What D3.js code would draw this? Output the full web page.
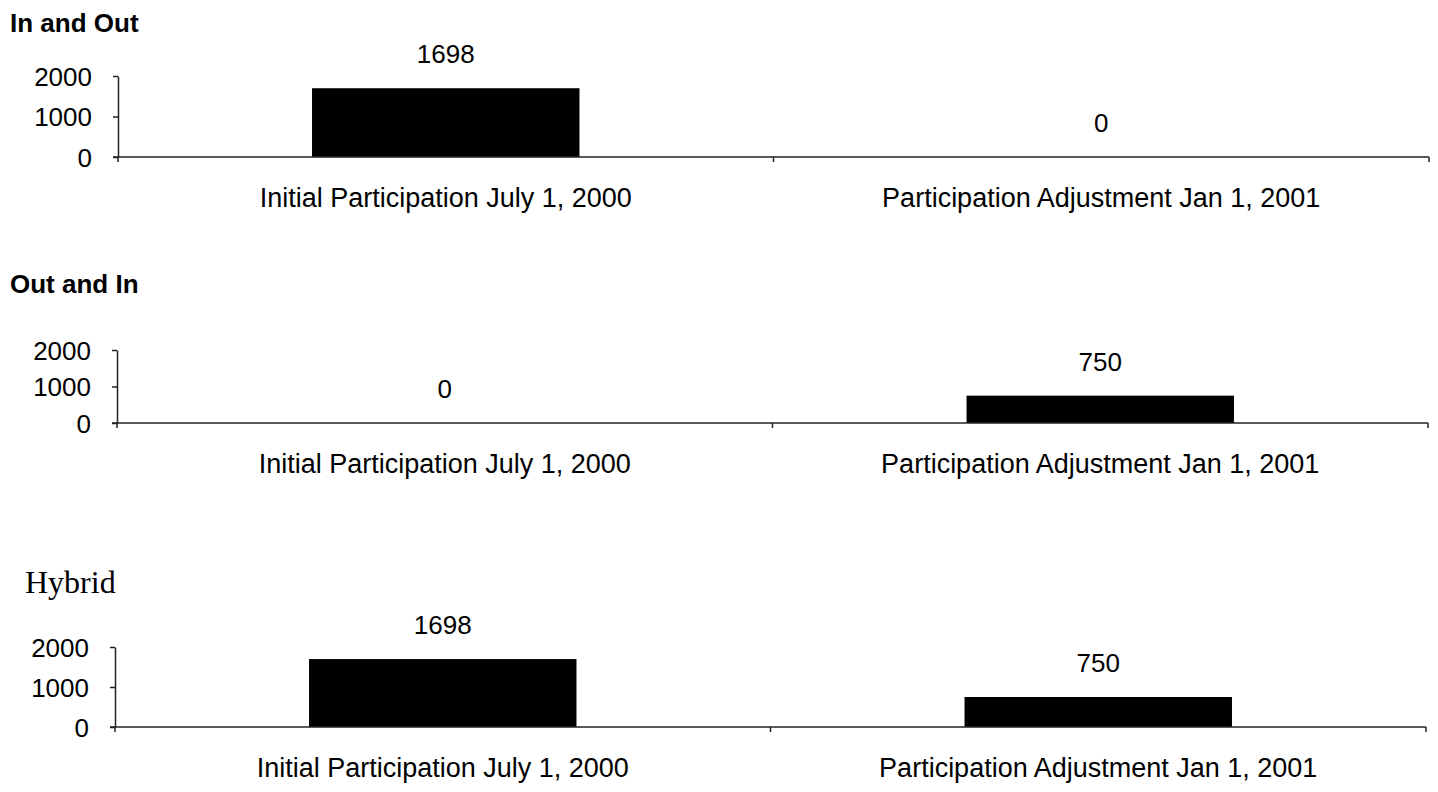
<!DOCTYPE html>
<html>
<head>
<meta charset="utf-8">
<script src="https://cdn.jsdelivr.net/npm/d3@7"></script>
<style>
  body { margin: 0; background: #fff; }
  svg text { fill: #000; }
</style>
</head>
<body>
<svg id="chart" width="1438" height="792"></svg>
<script>
// data
var categories = ["Initial Participation July 1, 2000", "Participation Adjustment Jan 1, 2001"];
var inAndOut = [1698, 0];
var outAndIn = [0, 750];
var hybrid = [1698, 750];
var yTicks = [0, 1000, 2000];
var titles = ["In and Out", "Out and In", "Hybrid"];

// layout of the three stacked panels
var panels = [
  { values: inAndOut, title: titles[0], titleY: 32,  serif: false, left: 118, right: 1429, zero: 157, top: 76 },
  { values: outAndIn, title: titles[1], titleY: 293, serif: false, left: 117, right: 1428, zero: 423, top: 350 },
  { values: hybrid,   title: titles[2], titleY: 593, serif: true,  left: 115, right: 1426, zero: 727, top: 647 }
];

var svg = d3.select("#chart");
var sans = "'Liberation Sans', Arial, sans-serif";

panels.forEach(function (p) {
  var g = svg.append("g");

  var x = d3.scaleBand()
      .domain(categories)
      .range([p.left, p.right])
      .paddingInner(0.592)
      .paddingOuter(0.296);

  var y = d3.scaleLinear()
      .domain([0, 2000])
      .range([p.zero, p.top]);

  // title
  g.append("text")
    .attr("x", p.serif ? 25 : 10)
    .attr("y", p.titleY)
    .attr("font-family", p.serif ? "'Liberation Serif', 'Times New Roman', serif" : sans)
    .attr("font-weight", p.serif ? "normal" : "bold")
    .attr("font-size", p.serif ? "32px" : "26px")
    .text(p.title);

  // y axis
  var yAxis = g.append("g")
    .attr("transform", "translate(" + p.left + ",0)")
    .call(d3.axisLeft(y).tickValues(yTicks).tickFormat(d3.format("d"))
      .tickSize(5).tickPadding(21).tickSizeOuter(0));
  yAxis.selectAll("text")
    .attr("font-family", sans)
    .attr("font-size", "26px")
    .attr("dy", "0.36em");

  // bars
  g.selectAll("rect")
    .data(p.values)
    .enter()
    .append("rect")
    .attr("x", function (d, i) { return x(categories[i]); })
    .attr("width", x.bandwidth())
    .attr("y", function (d) { return y(d); })
    .attr("height", function (d) { return p.zero - y(d); })
    .attr("fill", "#000");

  // value labels
  g.selectAll(".val")
    .data(p.values)
    .enter()
    .append("text")
    .attr("class", "val")
    .attr("text-anchor", "middle")
    .attr("font-family", sans)
    .attr("font-size", "26px")
    .attr("x", function (d, i) { return x(categories[i]) + x.bandwidth() / 2; })
    .attr("y", function (d) { return y(d) - 25; })
    .text(function (d) { return d; });

  // x axis with category labels
  var xAxis = g.append("g")
    .attr("transform", "translate(0," + p.zero + ")")
    .call(d3.axisBottom(x).tickSize(0).tickPadding(31).tickSizeOuter(0));
  xAxis.select(".domain").attr("d", "M" + (p.left - 5) + ",0H" + p.right);
  xAxis.selectAll("text")
    .attr("font-family", sans)
    .attr("font-size", "27px");

  // boundary ticks between the categories
  var edges = [p.left, x(categories[1]) - x.step() * x.paddingInner() / 2, p.right];
  g.selectAll(".edge")
    .data(edges)
    .enter()
    .append("line")
    .attr("class", "edge")
    .attr("x1", function (d) { return d; })
    .attr("x2", function (d) { return d; })
    .attr("y1", p.zero)
    .attr("y2", p.zero + 5)
    .attr("stroke", "#222")
    .attr("stroke-width", 1.5);

  g.selectAll(".domain, .tick line")
    .attr("stroke", "#222")
    .attr("stroke-width", 1.5);
});
</script>
</body>
</html>
